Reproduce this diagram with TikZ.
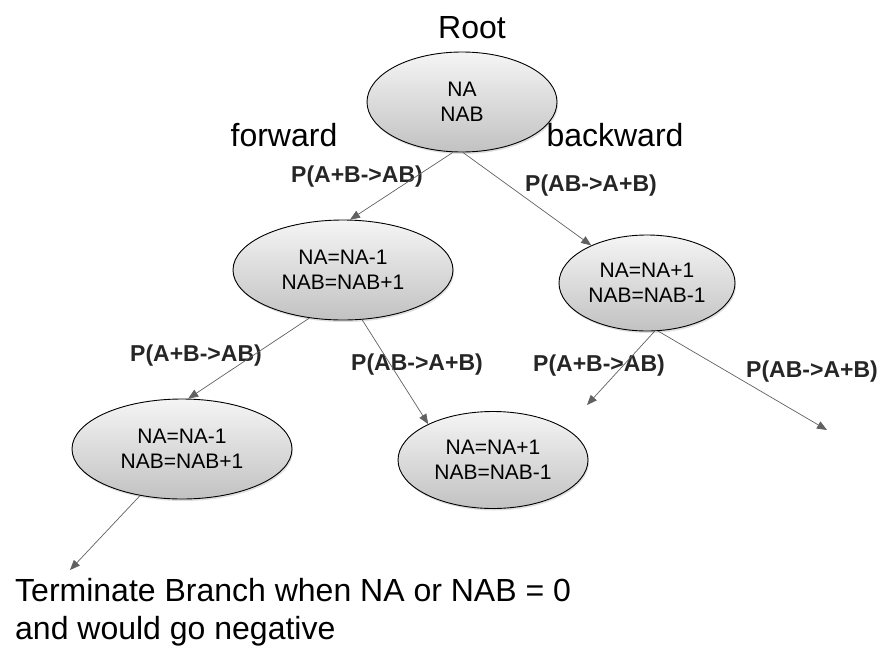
\documentclass[tikz,border=0pt]{standalone}
\usepackage{fontspec}
\setmainfont{Liberation Sans}
\usetikzlibrary{shapes.geometric,shadows,arrows.meta}

\begin{document}
\begin{tikzpicture}[x=1pt,y=-1pt,
	state/.style={ellipse,draw=black,line width=0.9pt,top color=black!4,bottom color=black!24,
		drop shadow={shadow xshift=1pt,shadow yshift=-2pt,opacity=0.25},
		align=center,inner sep=0pt,font=\fontsize{21}{25}\selectfont},
	rate/.style={font=\fontsize{23}{27}\selectfont\bfseries,text=black!85},
	big/.style={font=\fontsize{32}{38}\selectfont},
	every edge/.style={draw=black!62,line width=0.7pt,-{Triangle[length=10pt,width=8pt]}}]
	\useasboundingbox (0,0) rectangle (886,656);

	\node[state,minimum width=190pt,minimum height=100pt] (root) at (462,102) {NA\\NAB};
	\node[state,minimum width=220pt,minimum height=100pt] (fwd)  at (343,270) {NA=NA-1\\NAB=NAB+1};
	\node[state,minimum width=176pt,minimum height=96pt]  (bwd)  at (647,283) {NA=NA+1\\NAB=NAB-1};
	\node[state,minimum width=220pt,minimum height=100pt] (ff)   at (182,449) {NA=NA-1\\NAB=NAB+1};
	\node[state,minimum width=190pt,minimum height=97pt]  (fb)   at (493,460) {NA=NA+1\\NAB=NAB-1};

	\coordinate (bf) at (587,405);
	\coordinate (bb) at (827,430);
	\coordinate (stop) at (70,570);

	\node[big] (rootlbl) at (472,28) {Root};
	\node[big] (fwdlbl) at (284,135) {forward};
	\node[big] (bwdlbl) at (615,135) {backward};

	\node[rate] (r1) at (357,177) {P(A+B->AB)};
	\node[rate] (r2) at (591,186) {P(AB->A+B)};
	\node[rate] (r3) at (196,356) {P(A+B->AB)};
	\node[rate] (r4) at (417,365) {P(AB->A+B)};
	\node[rate] (r5) at (599,366) {P(A+B->AB)};
	\node[rate] (r6) at (812,372) {P(AB->A+B)};

	\node[big,align=left,anchor=north west,inner sep=0pt] (note) at (15,578)
		{Terminate Branch when NA or NAB = 0\\and would go negative};

	\path (root.260) edge (fwd.82)
	      (root.271) edge (bwd.146)
	      (fwd.235)  edge (ff.83)
	      (fwd.291)  edge (fb.151)
	      (bwd.279)  edge (bf)
	      (bwd.283)  edge (bb)
	      (ff.228)   edge (stop);
\end{tikzpicture}
\end{document}
